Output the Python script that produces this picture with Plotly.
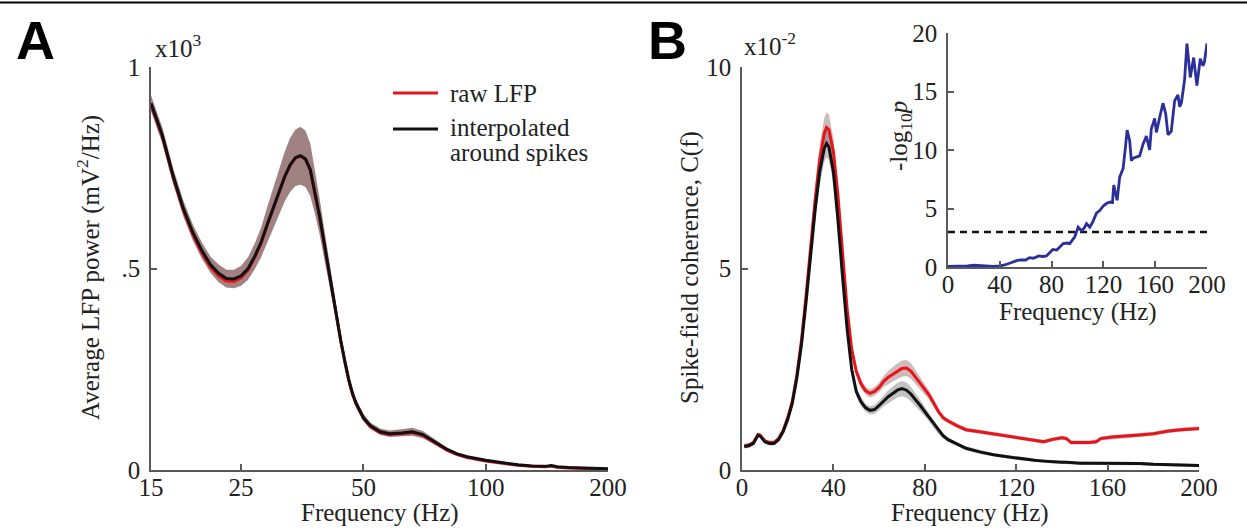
import math
import plotly.graph_objects as go

# ---------------- data ----------------
# Panel A: average LFP power (x10^3 mV^2/Hz)
freq_a = [15, 16, 17, 18, 19, 20, 21, 22, 23, 24, 25, 26, 27, 28, 29, 30, 31, 32, 33, 34,
          35, 36, 37, 38, 39, 40, 41, 42, 43, 44, 45, 46, 47, 48, 50, 52, 55, 58, 62, 66,
          70, 75, 80, 85, 90, 100, 110, 120, 130, 140, 145, 150, 160, 180, 200]
power_interp = [0.910, 0.830, 0.730, 0.650, 0.590, 0.545, 0.510, 0.488, 0.475, 0.474,
                0.482, 0.500, 0.530, 0.565, 0.610, 0.650, 0.690, 0.728, 0.757, 0.775,
                0.780, 0.772, 0.745, 0.690, 0.630, 0.565, 0.500, 0.440, 0.380, 0.320,
                0.270, 0.225, 0.190, 0.165, 0.130, 0.110, 0.095, 0.090, 0.092, 0.095,
                0.088, 0.070, 0.052, 0.040, 0.033, 0.024, 0.018, 0.013, 0.010, 0.009,
                0.011, 0.008, 0.006, 0.004, 0.003]
power_raw = [0.906, 0.826, 0.726, 0.646, 0.585, 0.539, 0.504, 0.482, 0.469, 0.468,
             0.477, 0.496, 0.527, 0.563, 0.608, 0.648, 0.688, 0.727, 0.756, 0.774,
             0.779, 0.771, 0.744, 0.689, 0.628, 0.563, 0.498, 0.438, 0.378, 0.318,
             0.268, 0.223, 0.188, 0.163, 0.128, 0.108, 0.093, 0.088, 0.090, 0.093,
             0.086, 0.068, 0.050, 0.038, 0.031, 0.022, 0.016, 0.012, 0.009, 0.008,
             0.010, 0.007, 0.005, 0.003, 0.002]
power_sem = [0.020, 0.020, 0.020, 0.020, 0.020, 0.020, 0.020, 0.022, 0.022, 0.023,
             0.025, 0.028, 0.032, 0.037, 0.043, 0.050, 0.056, 0.062, 0.067, 0.070,
             0.072, 0.070, 0.065, 0.055, 0.045, 0.037, 0.030, 0.025, 0.020, 0.017,
             0.014, 0.012, 0.011, 0.010, 0.009, 0.008, 0.008, 0.008, 0.009, 0.010,
             0.009, 0.007, 0.005, 0.004, 0.003, 0.003, 0.002, 0.002, 0.002, 0.002,
             0.002, 0.002, 0.002, 0.002, 0.002]

# Panel B: spike-field coherence (x10^-2)
freq_b = [1, 3, 5, 7, 8, 10, 12, 14, 16, 18, 20, 22, 24, 26, 28, 30, 32, 34, 36, 37,
          38, 40, 42, 44, 46, 48, 50, 52, 54, 56, 58, 60, 62, 64, 66, 68, 70, 72, 74, 76,
          78, 80, 82, 84, 86, 88, 90, 94, 98, 104, 110, 116, 122, 128, 132, 136, 140, 142,
          144, 148, 152, 155, 157, 162, 168, 174, 180, 186, 192, 196, 200]
coh_raw = [0.60, 0.62, 0.68, 0.88, 0.86, 0.72, 0.68, 0.68, 0.78, 0.98,
           1.30, 1.70, 2.35, 3.20, 4.30, 5.50, 6.70, 7.70, 8.35, 8.50,
           8.45, 7.90, 6.80, 5.40, 4.00, 3.00, 2.45, 2.15, 1.97, 1.90,
           1.95, 2.05, 2.20, 2.30, 2.38, 2.45, 2.52, 2.53, 2.45, 2.30,
           2.15, 2.00, 1.85, 1.65, 1.45, 1.30, 1.22, 1.10, 1.00, 0.95,
           0.90, 0.85, 0.80, 0.74, 0.70, 0.76, 0.80, 0.78, 0.68, 0.68,
           0.68, 0.70, 0.78, 0.82, 0.84, 0.87, 0.90, 0.96, 1.00, 1.02, 1.03]
coh_interp = [0.58, 0.60, 0.66, 0.86, 0.84, 0.70, 0.66, 0.66, 0.75, 0.95,
              1.25, 1.65, 2.28, 3.10, 4.15, 5.30, 6.45, 7.40, 7.98, 8.10,
              8.02, 7.40, 6.20, 4.80, 3.50, 2.50, 1.95, 1.70, 1.55, 1.48,
              1.50, 1.60, 1.72, 1.82, 1.90, 1.98, 2.02, 1.98, 1.88, 1.75,
              1.60, 1.45, 1.30, 1.12, 0.97, 0.85, 0.76, 0.64, 0.54, 0.45,
              0.38, 0.33, 0.28, 0.24, 0.22, 0.20, 0.19, 0.19, 0.18, 0.17,
              0.17, 0.17, 0.16, 0.16, 0.16, 0.16, 0.14, 0.13, 0.13, 0.12, 0.11]
sem_raw = [0.05, 0.05, 0.05, 0.05, 0.05, 0.05, 0.05, 0.05, 0.05, 0.06,
           0.08, 0.10, 0.13, 0.17, 0.22, 0.27, 0.32, 0.36, 0.38, 0.38,
           0.37, 0.34, 0.29, 0.23, 0.18, 0.14, 0.12, 0.11, 0.10, 0.10,
           0.11, 0.12, 0.14, 0.16, 0.18, 0.19, 0.20, 0.20, 0.19, 0.17,
           0.15, 0.13, 0.11, 0.09, 0.08, 0.07, 0.06, 0.06, 0.05, 0.05,
           0.05, 0.05, 0.05, 0.05, 0.05, 0.05, 0.05, 0.05, 0.05, 0.05,
           0.05, 0.05, 0.05, 0.05, 0.05, 0.05, 0.05, 0.05, 0.05, 0.05, 0.05]
sem_interp = [0.05, 0.05, 0.05, 0.05, 0.05, 0.05, 0.05, 0.05, 0.05, 0.06,
              0.08, 0.10, 0.13, 0.16, 0.20, 0.24, 0.28, 0.32, 0.34, 0.34,
              0.33, 0.30, 0.26, 0.21, 0.17, 0.14, 0.12, 0.11, 0.10, 0.10,
              0.11, 0.12, 0.14, 0.16, 0.17, 0.18, 0.19, 0.19, 0.18, 0.16,
              0.14, 0.12, 0.10, 0.09, 0.08, 0.07, 0.06, 0.05, 0.05, 0.05,
              0.04, 0.04, 0.04, 0.04, 0.04, 0.04, 0.04, 0.04, 0.04, 0.04,
              0.04, 0.04, 0.04, 0.04, 0.04, 0.04, 0.04, 0.04, 0.04, 0.04, 0.04]

# Inset: -log10 p
freq_p = [0, 5, 10, 15, 20, 25, 30, 35, 40, 43, 47, 50, 53, 56, 60, 63, 66, 70, 73, 76,
          79, 81, 84, 86, 89, 92, 94, 96, 98, 100.5, 103, 105, 107, 109.5, 112, 114.6, 117,
          119.8, 122, 125, 127, 128, 129.5, 130.6, 132.6, 135.2, 137, 138.3, 140.3, 141.6,
          143, 145.5, 148, 150.6, 153.2, 155.7, 157, 159.6, 160.9, 163.5, 166, 168.1, 169.9,
          172.4, 175, 177.6, 178.9, 180.2, 182.7, 184.5, 187.1, 189.7, 192.2, 194.8, 196.9,
          198, 200]
neglogp = [0.05, 0.05, 0.08, 0.10, 0.15, 0.10, 0.08, 0.06, 0.10, 0.15, 0.30, 0.45, 0.55,
           0.60, 0.60, 0.80, 0.75, 0.95, 0.90, 0.95, 1.30, 1.50, 1.45, 1.65, 2.00, 2.05,
           2.00, 2.30, 2.60, 3.40, 3.10, 3.30, 3.70, 3.40, 3.90, 4.60, 4.80, 5.20, 5.40,
           5.55, 5.50, 7.00, 6.20, 5.70, 7.70, 8.40, 10.2, 11.7, 10.8, 9.10, 9.30, 9.40,
           9.50, 10.5, 11.2, 10.0, 11.8, 12.7, 11.5, 12.8, 14.0, 13.1, 11.3, 11.6, 14.2,
           14.7, 13.7, 14.0, 16.0, 19.1, 16.2, 17.9, 15.5, 17.8, 17.2, 17.5, 19.1]
p_threshold = 3.0

ticks_a_x = [15, 25, 50, 100, 200]
ticks_a_y = [0, 0.5, 1]
ticklabels_a_y = ["0", ".5", "1"]
ticks_b_x = [0, 40, 80, 120, 160, 200]
ticks_b_y = [0, 5, 10]
ticks_in_y = [0, 5, 10, 15, 20]

# ---------------- layout helpers ----------------
W, H = 1247, 531
def PX(p):
    return p / W
def PY(p):
    return 1 - p / H

SERIF = "Liberation Serif"
SANS = "Liberation Sans"
FS = 25
AXC = "#5a5a5a"
RED = "#e8141c"
BLK = "#111111"

fig = go.Figure()

def band(x, m, s, color, xa, ya):
    up = [a + b for a, b in zip(m, s)]
    lo = [a - b for a, b in zip(m, s)]
    fig.add_trace(go.Scatter(x=list(x) + list(x)[::-1], y=up + lo[::-1], fill="toself",
                             fillcolor=color, line=dict(width=0), mode="lines",
                             hoverinfo="skip", showlegend=False, xaxis=xa, yaxis=ya))

# Panel A
band(freq_a, power_interp, power_sem, "rgb(160,130,130)", "x", "y")
fig.add_trace(go.Scatter(x=freq_a, y=power_raw, mode="lines", line=dict(color=RED, width=3),
                         name="raw LFP", showlegend=False, xaxis="x", yaxis="y"))
fig.add_trace(go.Scatter(x=freq_a, y=power_interp, mode="lines", line=dict(color=BLK, width=3),
                         name="interpolated around spikes", showlegend=False, xaxis="x", yaxis="y"))

# Panel B
band(freq_b, coh_raw, sem_raw, "rgba(160,115,115,0.50)", "x2", "y2")
band(freq_b, coh_interp, sem_interp, "rgba(120,120,120,0.45)", "x2", "y2")
fig.add_trace(go.Scatter(x=freq_b, y=coh_raw, mode="lines", line=dict(color=RED, width=3),
                         showlegend=False, xaxis="x2", yaxis="y2"))
fig.add_trace(go.Scatter(x=freq_b, y=coh_interp, mode="lines", line=dict(color=BLK, width=3),
                         showlegend=False, xaxis="x2", yaxis="y2"))

# Inset
fig.add_trace(go.Scatter(x=[0, 200], y=[p_threshold, p_threshold], mode="lines",
                         line=dict(color="#111111", width=2.5, dash="7px,5px"),
                         showlegend=False, xaxis="x3", yaxis="y3"))
fig.add_trace(go.Scatter(x=freq_p, y=neglogp, mode="lines", line=dict(color="#2a2f9a", width=2.8),
                         showlegend=False, xaxis="x3", yaxis="y3"))

axis_common = dict(showgrid=False, zeroline=False, showline=True, linecolor=AXC, linewidth=1.6,
                   ticks="inside", ticklen=6, tickwidth=1.5, tickcolor=AXC, automargin=False,
                   tickfont=dict(family=SERIF, size=FS, color="#222"), mirror=False,
                   fixedrange=True)

fig.update_layout(
    template="none",
    width=W, height=H, margin=dict(l=0, r=0, t=0, b=0, pad=0), autosize=False,
    font=dict(family=SERIF, size=FS, color="#222"),
    paper_bgcolor="white", plot_bgcolor="rgba(0,0,0,0)", showlegend=False,
    xaxis=dict(axis_common, type="log", range=[math.log10(15), math.log10(200)],
               domain=[PX(151), PX(608)], anchor="y", tickvals=ticks_a_x,
               ticktext=[str(v) for v in ticks_a_x], ticklabelstandoff=-6),
    yaxis=dict(axis_common, range=[0, 1], domain=[PY(470), PY(67)], anchor="x",
               tickvals=ticks_a_y, ticktext=ticklabels_a_y, ticklabelstandoff=4),
    xaxis2=dict(axis_common, range=[0, 200], domain=[PX(742), PX(1199)], anchor="y2",
                tickvals=ticks_b_x, ticklabelstandoff=-6),
    yaxis2=dict(axis_common, range=[0, 10], domain=[PY(470), PY(67)], anchor="x2",
                tickvals=ticks_b_y, ticklabelstandoff=4),
    xaxis3=dict(axis_common, range=[0, 200], domain=[PX(948), PX(1207)], anchor="y3",
                tickvals=ticks_b_x, ticklabelstandoff=-6),
    yaxis3=dict(axis_common, range=[0, 20], domain=[PY(267), PY(33)], anchor="x3",
                tickvals=ticks_in_y, ticklabelstandoff=4),
)

def note(text, x, y, size=FS, xanchor="center", yanchor="middle", angle=0, family=SERIF,
         color="#222"):
    fig.add_annotation(text=text, x=PX(x), y=PY(y), xref="paper", yref="paper",
                       xanchor=xanchor, yanchor=yanchor, showarrow=False, textangle=angle,
                       font=dict(family=family, size=size, color=color))

# panel letters
note("<b>A</b>", 14, 40, size=54, xanchor="left", family=SANS, color="black")
note("<b>B</b>", 646, 40, size=54, xanchor="left", family=SANS, color="black")
# exponents
note("x10<sup>3</sup>", 153, 46, xanchor="left")
note("x10<sup>-2</sup>", 742, 44, xanchor="left")
# axis titles
note("Frequency (Hz)", 380, 513)
note("Frequency (Hz)", 970, 513)
note("Frequency (Hz)", 1078, 312)
note("Average LFP power (mV<sup>2</sup>/Hz)", 88, 268, angle=-90)
note("Spike-field coherence, C(f)", 690, 268, angle=-90)
note("-log<sub>10</sub><i>p</i>", 900, 136, angle=-90)
# legend
fig.add_shape(type="line", xref="paper", yref="paper", x0=PX(393), x1=PX(438), y0=PY(93),
              y1=PY(93), line=dict(color=RED, width=3))
fig.add_shape(type="line", xref="paper", yref="paper", x0=PX(393), x1=PX(438), y0=PY(129),
              y1=PY(129), line=dict(color=BLK, width=3))
note("raw LFP", 448, 93, xanchor="left")
note("interpolated", 448, 128, xanchor="left")
note("around spikes", 448, 152, xanchor="left")
# top border
fig.add_shape(type="line", xref="paper", yref="paper", x0=0, x1=1, y0=PY(2.5), y1=PY(2.5),
              line=dict(color="black", width=2))

fig.write_html("out.html")
